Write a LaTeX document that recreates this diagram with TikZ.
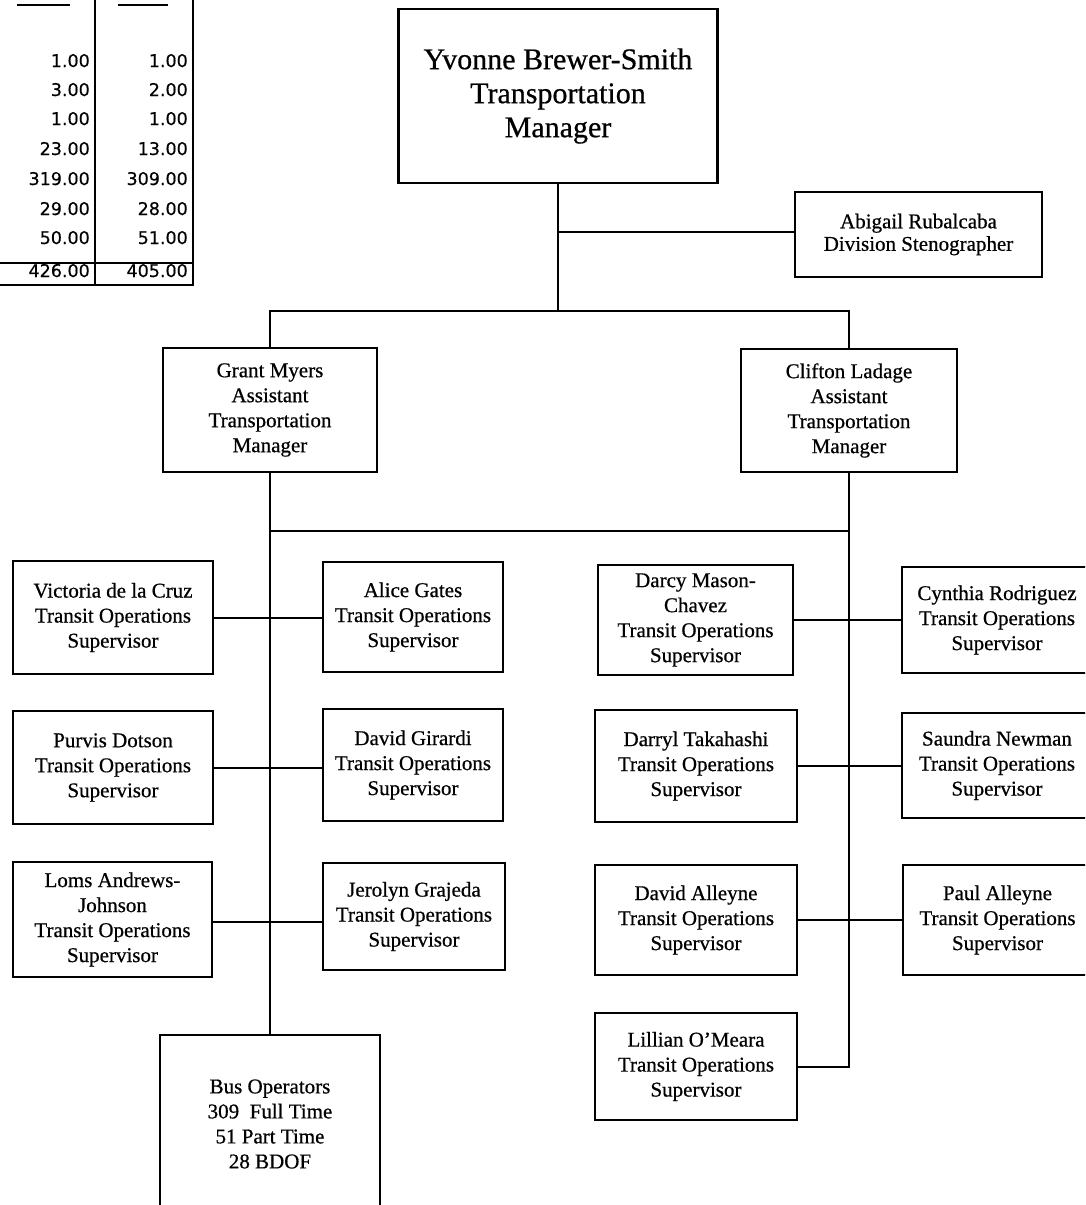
\documentclass[tikz,border=0pt]{standalone}
\usepackage{fontspec}
\setmainfont{Liberation Serif}[FakeBold=0.6]
\newfontfamily\numfont{DejaVu Sans}[FakeBold=0.4]
\begin{document}
\begin{tikzpicture}[x=1pt,y=-1pt,
  box/.style={draw, line width=2.2pt, inner sep=0pt, align=center,
    font=\fontsize{21}{25}\selectfont},
  bigbox/.style={box, font=\fontsize{30}{34}\selectfont},
  stenobox/.style={box, font=\fontsize{21}{22.5}\selectfont},
  conn/.style={line width=2pt},
  tab/.style={line width=2.2pt},
  num/.style={anchor=base east, inner sep=0pt, font=\numfont\fontsize{17.5}{20}\selectfont}]
\useasboundingbox (0,0) rectangle (1085,1205);
\clip (0,0) rectangle (1085,1205);

% ---- table (top left) ----
\draw[tab] (95,0) -- (95,285);
\draw[tab] (193,0) -- (193,286);
\draw[tab] (0,263) -- (193,263);
\draw[tab] (0,285) -- (193,285);
\draw[line width=1.8pt] (17,5) -- (70,5);
\draw[line width=1.8pt] (118,5) -- (168,5);
\foreach \a/\b/\y [count=\i] in {1.00/1.00/67, 3.00/2.00/96, 1.00/1.00/125, 23.00/13.00/155,
  319.00/309.00/185, 29.00/28.00/215, 50.00/51.00/244, 426.00/405.00/277}{
  \node[num] (ta\i) at (90,\y) {\a};
  \node[num] (tb\i) at (188,\y) {\b};
}

% ---- boxes ----
\node[bigbox, minimum width=319, minimum height=174] (mgr) at (558,96)
  {Yvonne Brewer-Smith\\Transportation\\Manager};
\node[stenobox, minimum width=247, minimum height=85] (steno) at (918.5,234.5)
  {Abigail Rubalcaba\\Division Stenographer};
\node[box, minimum width=214, minimum height=124] (grant) at (270,410)
  {Grant Myers\\Assistant\\Transportation\\Manager};
\node[box, minimum width=216, minimum height=123] (clifton) at (849,410.5)
  {Clifton Ladage\\Assistant\\Transportation\\Manager};

\node[box, minimum width=200, minimum height=113] (vic) at (113,617.5)
  {Victoria de la Cruz\\Transit Operations\\Supervisor};
\node[box, minimum width=180, minimum height=110] (alice) at (413,617)
  {Alice Gates\\Transit Operations\\Supervisor};
\node[box, minimum width=200, minimum height=113] (purvis) at (113,767.5)
  {Purvis Dotson\\Transit Operations\\Supervisor};
\node[box, minimum width=180, minimum height=112] (girardi) at (413,765)
  {David Girardi\\Transit Operations\\Supervisor};
\node[box, minimum width=199, minimum height=115] (loms) at (112.5,919.5)
  {Loms Andrews-\\Johnson\\Transit Operations\\Supervisor};
\node[box, minimum width=182, minimum height=107] (jerolyn) at (414,916.5)
  {Jerolyn Grajeda\\Transit Operations\\Supervisor};
\node[box, minimum width=220, minimum height=178] (bus) at (270,1124)
  {Bus Operators\\309\ \ Full Time\\51 Part Time\\28 BDOF};

\node[box, minimum width=195, minimum height=110] (darcy) at (695.5,620)
  {Darcy Mason-\\Chavez\\Transit Operations\\Supervisor};
\node[box, minimum width=190, minimum height=106] (cynthia) at (997,620)
  {Cynthia Rodriguez\\Transit Operations\\Supervisor};
\node[box, minimum width=202, minimum height=112] (darryl) at (696,766)
  {Darryl Takahashi\\Transit Operations\\Supervisor};
\node[box, minimum width=190, minimum height=105] (saundra) at (997,765.5)
  {Saundra Newman\\Transit Operations\\Supervisor};
\node[box, minimum width=202, minimum height=110] (dalleyne) at (696,920)
  {David Alleyne\\Transit Operations\\Supervisor};
\node[box, minimum width=189, minimum height=110] (paul) at (997.5,920)
  {Paul Alleyne\\Transit Operations\\Supervisor};
\node[box, minimum width=202, minimum height=107] (lillian) at (696,1066.5)
  {Lillian O'Meara\\Transit Operations\\Supervisor};

% ---- connectors ----
\coordinate (barL) at (270,311);
\coordinate (barR) at (849,311);
\coordinate (midL) at (270,531);
\coordinate (midR) at (849,531);
\draw[conn] (mgr.south) -- (mgr.south |- barL);
\draw[conn] (mgr.south |- 0,232) -- (steno.west |- 0,232);
\draw[conn] (grant.north) -- (barL) -- (barR) -- (clifton.north);
\draw[conn] (grant.south) -- (bus.north);
\draw[conn] (clifton.south) -- (clifton.south |- lillian.east) -- (lillian.east);
\draw[conn] (midL) -- (midR);
\draw[conn] (vic.east) -- (vic.east -| alice.west);
\draw[conn] (purvis.east) -- (purvis.east -| girardi.west);
\draw[conn] (loms.east |- 0,922) -- (jerolyn.west |- 0,922);
\draw[conn] (darcy.east) -- (darcy.east -| cynthia.west);
\draw[conn] (darryl.east) -- (darryl.east -| saundra.west);
\draw[conn] (dalleyne.east) -- (dalleyne.east -| paul.west);
\end{tikzpicture}
\end{document}
